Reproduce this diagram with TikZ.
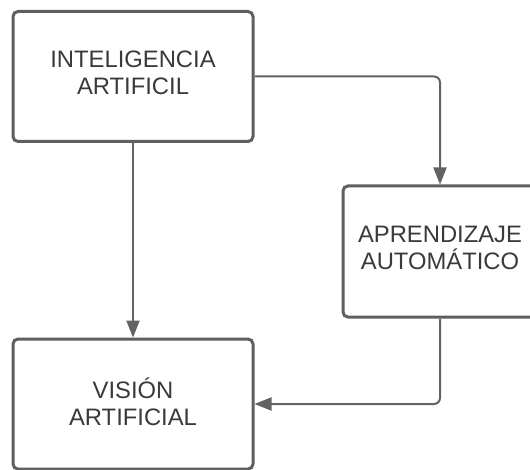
\documentclass[tikz,border=0pt]{standalone}
\usepackage{fontspec}
\setmainfont{Liberation Sans}
\usetikzlibrary{arrows.meta}
\definecolor{edgegray}{HTML}{5F5F5F}
\definecolor{linkgray}{HTML}{636363}
\definecolor{textgray}{HTML}{3A3A3A}
\begin{document}
\begin{tikzpicture}[x=1pt,y=-1pt,
  conceptbox/.style={draw=edgegray, line width=3pt, rounded corners=5pt,
    fill=white, minimum width=240pt, minimum height=130pt, inner sep=0pt},
  conceptlabel/.style={text=textgray, font=\fontsize{23.8}{27}\selectfont,
    align=center, inner sep=0pt},
  link/.style={draw=linkgray, line width=2pt, rounded corners=6pt,
    -{Triangle[length=17pt,width=13pt]}}]
  \useasboundingbox (0,0) rectangle (530,470);
  \clip (0,0) rectangle (530,470);
  \fill[white] (0,0) rectangle (530,470);

  % concept boxes with their labels
  \node[conceptbox] (ia) at (133,76.5) {};
  \node[conceptlabel] (ialabel) at (133,72.5) {INTELIGENCIA\\ARTIFICIL};
  \node[conceptbox, minimum width=194pt, minimum height=131pt] (aa) at (440,251.5) {};
  \node[conceptlabel] (aalabel) at (440,247.5) {APRENDIZAJE\\AUTOMÁTICO};
  \node[conceptbox] (va) at (133,404) {};
  \node[conceptlabel] (valabel) at (133,402) {VISIÓN\\ARTIFICIAL};

  % connectors
  \draw[link] (ia.east) -| (aa.north);
  \draw[link] (ia.south) -- (va.north);
  \draw[link] (aa.south) |- (va.east);
\end{tikzpicture}
\end{document}
